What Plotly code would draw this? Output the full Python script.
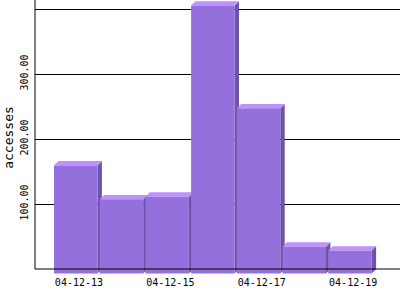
import plotly.graph_objects as go

# ---- data ----
dates = ["04-12-13", "04-12-14", "04-12-15", "04-12-16", "04-12-17", "04-12-18", "04-12-19"]
accesses = [166, 114, 118, 412, 254, 41, 35]
x_tick_labels = ["04-12-13", "04-12-15", "04-12-17", "04-12-19"]
y_tick_values = [100, 200, 300, 400]
y_tick_labels = ["100.00", "200.00", "300.00", ""]

# ---- geometry (style) ----
W, H = 400, 300
ML, MR, MT, MB = 35, 0, 0, 25
px_per_cat = 45.7
px_per_unit = 0.65
bar_w = 43.5 / px_per_cat
dx = 4.4 / px_per_cat
dy = 4.4 / px_per_unit
x_left = -(75.75 - ML) / px_per_cat
x_right = x_left + (W - ML - MR) / px_per_cat
y_top = (269 - MT) / px_per_unit
y_bottom = -((H - MB) - 269) / px_per_unit

FRONT = "#9370DB"
TOP = "#C090FF"
SIDE = "#6E54A8"

idx = list(range(len(dates)))

fig = go.Figure()
for i, v in zip(idx, accesses):
    l, r = i - bar_w / 2, i + bar_w / 2
    faces = [
        ([r, r + dx, r + dx, r, r], [-dy, 0, v, v - dy, -dy], SIDE),
        ([l, r, r + dx, l + dx, l], [v - dy, v - dy, v, v, v - dy], TOP),
        ([l, r, r, l, l], [-dy, -dy, v - dy, v - dy, -dy], FRONT),
    ]
    for fx, fy, col in faces:
        fig.add_trace(go.Scatter(
            x=fx, y=fy, mode="lines", fill="toself", fillcolor=col,
            line=dict(width=0, color=col), hoverinfo="skip", showlegend=False,
        ))

tick_off = 0.07
fig.update_layout(
    width=W, height=H,
    margin=dict(l=ML, r=MR, t=MT, b=MB, pad=0),
    paper_bgcolor="white", plot_bgcolor="white",
    showlegend=False,
    xaxis=dict(
        range=[x_left, x_right],
        tickvals=[idx[dates.index(d)] + tick_off for d in x_tick_labels],
        ticktext=x_tick_labels,
        showgrid=False, zeroline=False, showline=False, ticks="",
        tickfont=dict(family="DejaVu Sans Mono", size=10, color="black"),
    ),
    yaxis=dict(
        range=[y_bottom, y_top],
        tickvals=y_tick_values, ticktext=y_tick_labels,
        tickangle=-90,
        ticklabelstandoff=4,
        showgrid=True, gridcolor="black", gridwidth=1,
        zeroline=False, showline=False, ticks="",
        tickfont=dict(family="DejaVu Sans Mono", size=10, color="black"),
        title=dict(text="accesses", standoff=2,
                   font=dict(family="DejaVu Sans Mono", size=13, color="black")),
    ),
    shapes=[
        dict(type="line", xref="paper", yref="y", x0=0, x1=1, y0=0, y1=0,
             line=dict(color="black", width=1), layer="above"),
        dict(type="line", xref="paper", yref="y", x0=0, x1=0, y0=0, y1=y_top,
             line=dict(color="black", width=1), layer="above"),
    ],
)

fig.write_html("out.html")
